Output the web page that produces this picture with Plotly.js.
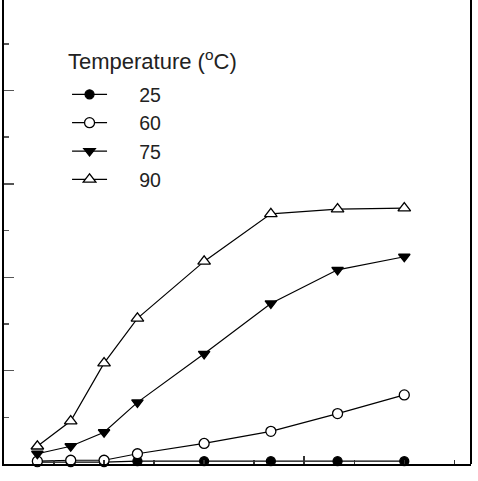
<!DOCTYPE html>
<html>
<head>
<meta charset="utf-8">
<script src="https://cdn.plot.ly/plotly-3.0.1.min.js"></script>
<style>
  html, body { margin: 0; padding: 0; background: #fff; }
  #chart { width: 478px; height: 481px; }
</style>
</head>
<body>
<div id="chart"></div>
<script>
// Sampling times (min) and measured values at each temperature
const times = [40, 80, 120, 160, 240, 320, 400, 480];
const temps = ['25', '60', '75', '90'];
const t25 = [0.02, 0.02, 0.02, 0.03, 0.03, 0.03, 0.03, 0.03];
const t60 = [0.03, 0.04, 0.04, 0.11, 0.22, 0.35, 0.54, 0.74];
const t75 = [0.11, 0.19, 0.34, 0.66, 1.18, 1.72, 2.08, 2.22];
const t90 = [0.19, 0.46, 1.08, 1.56, 2.17, 2.68, 2.73, 2.74];

const series = [t25, t60, t75, t90];
// filled black / white-filled outlined markers
const symbols = ['circle', 'circle', 'triangle-down', 'triangle-up'];
const fills = ['#000', '#fff', '#000', '#fff'];
const sizes = [9, 10, 10, 11];
const PAD = '\u00a0\u00a0\u00a0\u00a0\u00a0';

const traces = series.map((ys, i) => ({
  type: 'scatter',
  mode: 'lines+markers',
  x: times,
  y: ys,
  name: PAD + temps[i],
  cliponaxis: false,
  line: { color: '#000', width: 1.2 },
  marker: {
    symbol: symbols[i],
    size: sizes[i],
    color: fills[i],
    line: { color: '#000', width: 1.3 }
  }
}));

const layout = {
  width: 478,
  height: 481,
  margin: { l: 4, r: 7, t: 0, b: 17 },
  paper_bgcolor: '#fff',
  plot_bgcolor: '#fff',
  showlegend: true,
  font: { family: 'Liberation Sans, Arial, sans-serif', color: '#222' },
  legend: {
    x: 0.135, y: 0.838, xanchor: 'left', yanchor: 'top',
    bgcolor: 'rgba(0,0,0,0)',
    itemwidth: 35,
    font: { size: 19.5, color: '#222' }
  },
  annotations: [{
    xref: 'paper', yref: 'paper',
    x: 0.1327, y: 0.8707, xanchor: 'left', yanchor: 'middle',
    showarrow: false,
    text: 'Temperature (<sup>o</sup>C)',
    font: { size: 22, color: '#222' }
  }],
  xaxis: {
    range: [0, 560],
    showgrid: false, zeroline: false,
    showline: true, linecolor: '#000', linewidth: 2,
    ticks: 'inside', tick0: 0, dtick: 360, ticklen: 8, tickwidth: 1.5, tickcolor: '#333',
    minor: { ticks: 'inside', dtick: 60, ticklen: 4, tickwidth: 1.5, tickcolor: '#333' },
    showticklabels: false
  },
  yaxis: {
    range: [0, 4.97],
    showgrid: false, zeroline: false,
    showline: true, linecolor: '#000', linewidth: 2,
    ticks: 'inside', tick0: 0, dtick: 1, ticklen: 10, tickwidth: 1.5, tickcolor: '#555',
    minor: { ticks: 'inside', dtick: 0.5, ticklen: 5, tickwidth: 1.5, tickcolor: '#555' },
    showticklabels: false
  },
  shapes: [{
    type: 'line', xref: 'paper', yref: 'paper',
    x0: 1, x1: 1, y0: 0, y1: 1,
    line: { color: '#000', width: 2 }
  }]
};

Plotly.newPlot('chart', traces, layout, { staticPlot: true, displayModeBar: false });
</script>
</body>
</html>
